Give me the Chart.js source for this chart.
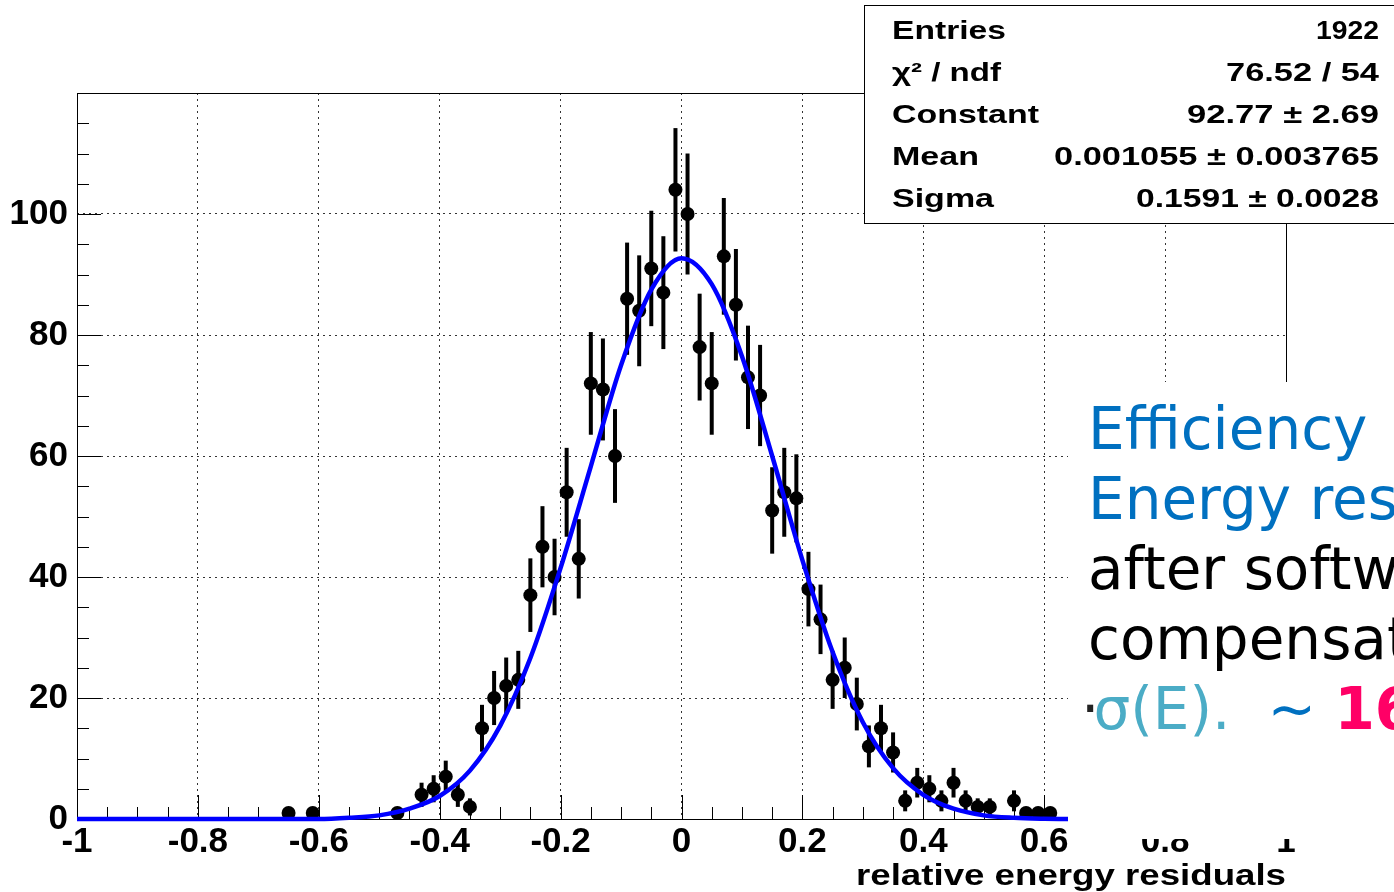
<!DOCTYPE html>
<html>
<head>
<meta charset="utf-8">
<title>relative energy residuals</title>
<script src="https://cdn.jsdelivr.net/npm/chart.js@4.4.1/dist/chart.umd.min.js"></script>
<style>
    body { margin: 0; background: #fff; }
    #wrap { position: relative; width: 1394px; height: 892px; overflow: hidden; }
    #note {
        position: absolute; left: 1068px; top: 382px; width: 326px; height: 457px;
        background: #fff; overflow: hidden; white-space: nowrap; box-sizing: border-box;
        padding: 12px 0 0 20px;
        font-family: "DejaVu Sans", sans-serif; font-size: 58px; line-height: 70px;
    }
    .blue { color: #0070c0; }
    .teal { color: #4bacc6; }
    .pink { color: #ff0066; font-weight: bold; }
    .dot { color: #222; margin-left: -7px; margin-right: -6px; }
</style>
</head>
<body>
<div id="wrap">
    <canvas id="hist" width="1394" height="892"></canvas>
    <div id="note">
        <div class="blue">Efficiency</div>
        <div class="blue">Energy resolution</div>
        <div>after software</div>
        <div>compensation</div>
        <div><span class="dot">·</span><span class="teal">σ(E).</span><span class="blue">&nbsp;&nbsp;~ </span><span class="pink">16%</span></div>
    </div>
</div>
<script>
// histogram bins (width 0.02), only non-empty ones
const binCenters = [-0.65, -0.61, -0.47, -0.43, -0.41, -0.39, -0.37, -0.35,
    -0.33, -0.31, -0.29, -0.27, -0.25, -0.23, -0.21, -0.19, -0.17, -0.15, -0.13, -0.11,
    -0.09, -0.07, -0.05, -0.03, -0.01, 0.01, 0.03, 0.05, 0.07, 0.09, 0.11, 0.13, 0.15,
    0.17, 0.19, 0.21, 0.23, 0.25, 0.27, 0.29, 0.31, 0.33, 0.35, 0.37, 0.39, 0.41, 0.43,
    0.45, 0.47, 0.49, 0.51, 0.55, 0.57, 0.59, 0.61];
const binCounts = [1, 1, 1, 4, 5, 7, 4, 2,
    15, 20, 22, 23, 37, 45, 40, 54, 43, 72, 71, 60,
    86, 84, 91, 87, 104, 100, 78, 72, 93, 85, 73, 70, 51,
    54, 53, 38, 33, 23, 25, 19, 12, 15, 11, 3, 6, 5, 3,
    6, 3, 2, 2, 3, 1, 1, 1];
const binWidth = 0.02;

// gaussian fit curve
const fitX = [-1, -0.95, -0.9, -0.85, -0.8, -0.75, -0.7, -0.65, -0.6, -0.55, -0.5,
    -0.45, -0.4, -0.35, -0.3, -0.25, -0.2, -0.15, -0.1, -0.05, 0,
    0.05, 0.1, 0.15, 0.2, 0.25, 0.3, 0.35, 0.4, 0.45, 0.5,
    0.55, 0.6, 0.65, 0.7, 0.75, 0.8, 0.85, 0.9, 0.95, 1];
const fitY = [0, 0, 0, 0, 0, 0, 0, 0, 0, 0.2, 0.6,
    1.7, 3.8, 8.0, 15.4, 26.6, 41.5, 58.3, 75.0, 87.5, 92.7,
    88.4, 76.5, 60.0, 42.8, 27.6, 16.0, 8.4, 4.0, 1.7, 0.6,
    0.2, 0.05, 0, 0, 0, 0, 0, 0, 0, 0];

const xTickLabels = ['-1', '-0.8', '-0.6', '-0.4', '-0.2', '0', '0.2', '0.4', '0.6', '0.8', '1'];
const yTickLabels = ['0', '20', '40', '60', '80', '100', ''];
const xTitle = 'relative energy residuals';
const statLabels = ['Entries', 'χ² / ndf', 'Constant', 'Mean', 'Sigma'];
const statValues = ['1922', '76.52 / 54', '92.77 ± 2.69', '0.001055 ± 0.003765', '0.1591 ± 0.0028'];

const tickFont = { family: '"Liberation Sans", Arial, sans-serif', size: 35, weight: 'bold' };

// text squeezed/stretched to a given width, like the ROOT canvas
function fitText(ctx, txt, x, y, w, align) {
    var m = ctx.measureText(txt).width;
    ctx.save();
    ctx.translate(x, y);
    ctx.scale(w / m, 1);
    ctx.textAlign = align;
    ctx.fillText(txt, 0, 0);
    ctx.restore();
}

const rootStyle = {
    id: 'rootStyle',
    beforeDatasetsDraw(chart) {
        var ctx = chart.ctx;
        var a = chart.chartArea;
        var xs = chart.scales.x;
        var ys = chart.scales.y;
        ctx.save();
        ctx.strokeStyle = '#000';
        ctx.lineWidth = 1;
        ctx.strokeRect(a.left + 0.5, a.top + 0.5, a.right - a.left, a.bottom - a.top);

        // ticks inside the frame
        ctx.beginPath();
        for (let k = 0; k <= 40; k++) {
            let px = Math.round(xs.getPixelForValue(-1 + k * 0.05)) + 0.5;
            let len = (k % 4 == 0) ? 24 : 12;
            ctx.moveTo(px, a.bottom);
            ctx.lineTo(px, a.bottom - len);
        }
        for (let k = 0; k <= 24; k++) {
            let py = Math.round(ys.getPixelForValue(k * 5)) + 0.5;
            let len = (k % 4 == 0) ? 24 : 12;
            ctx.moveTo(a.left, py);
            ctx.lineTo(a.left + len, py);
        }
        ctx.stroke();

        // error bars
        ctx.strokeStyle = '#000';
        for (let i = 0; i < binCenters.length; i++) {
            let err = Math.sqrt(binCounts[i]);
            let px = xs.getPixelForValue(binCenters[i]);
            let py = ys.getPixelForValue(binCounts[i]);
            ctx.lineWidth = 4;
            ctx.beginPath();
            ctx.moveTo(px, ys.getPixelForValue(binCounts[i] + err));
            ctx.lineTo(px, ys.getPixelForValue(Math.max(0, binCounts[i] - err)));
            ctx.stroke();
            ctx.lineWidth = 2;
            ctx.beginPath();
            ctx.moveTo(xs.getPixelForValue(binCenters[i] - binWidth / 2), py);
            ctx.lineTo(xs.getPixelForValue(binCenters[i] + binWidth / 2), py);
            ctx.stroke();
        }
        ctx.restore();
    },
    afterDraw(chart) {
        var ctx = chart.ctx;
        ctx.save();
        // stats box
        ctx.fillStyle = '#fff';
        ctx.fillRect(864, 5, 600, 218);
        ctx.strokeStyle = '#000';
        ctx.lineWidth = 1;
        ctx.strokeRect(864.5, 5.5, 600, 218);
        ctx.fillStyle = '#000';
        ctx.font = 'bold 26px "Liberation Sans", Arial, sans-serif';
        var labelW = [114, 109, 147, 87, 102];
        var valueW = [63, 153, 192, 325, 243];
        for (let i = 0; i < statLabels.length; i++) {
            let base = 39 + i * 42;
            fitText(ctx, statLabels[i], 892, base, labelW[i], 'left');
            fitText(ctx, statValues[i], 1379, base, valueW[i], 'right');
        }
        // axis title
        ctx.font = 'bold 29px "Liberation Sans", Arial, sans-serif';
        fitText(ctx, xTitle, 1286, 885, 430, 'right');
        ctx.restore();
    }
};

window.onload = function() {
    var ctx = document.getElementById('hist').getContext('2d');
    new Chart(ctx, {
        type: 'scatter',
        data: {
            datasets: [{
                type: 'line',
                label: 'gaus',
                data: fitX.map((x, i) => ({ x: x, y: fitY[i] })),
                borderColor: '#0000ff',
                borderWidth: 4.5,
                pointRadius: 0,
                fill: false,
                cubicInterpolationMode: 'monotone',
                clip: false,
                order: 0
            }, {
                type: 'scatter',
                label: 'residuals',
                data: binCenters.map((x, i) => ({ x: x, y: binCounts[i] })),
                pointRadius: 7,
                pointBackgroundColor: '#000',
                pointBorderWidth: 0,
                order: 1
            }]
        },
        options: {
            responsive: false,
            animation: false,
            events: [],
            layout: { padding: { top: 93, right: 108, left: 0, bottom: 0 } },
            plugins: { legend: { display: false }, tooltip: { enabled: false } },
            scales: {
                x: {
                    type: 'linear',
                    min: -1,
                    max: 1,
                    afterFit: function(s) { s.height = 73; },
                    grid: { color: '#333', lineWidth: 1, drawTicks: false },
                    border: { display: false, dash: [2, 4] },
                    ticks: {
                        stepSize: 0.2,
                        autoSkip: false,
                        maxRotation: 0,
                        padding: 2,
                        color: '#000',
                        font: tickFont,
                        callback: (v, i) => xTickLabels[i]
                    }
                },
                y: {
                    min: 0,
                    max: 120,
                    afterFit: function(s) { s.width = 77; },
                    grid: { color: '#333', lineWidth: 1, drawTicks: false },
                    border: { display: false, dash: [2, 4] },
                    ticks: {
                        stepSize: 20,
                        padding: 9,
                        color: '#000',
                        font: tickFont,
                        callback: (v, i) => yTickLabels[i]
                    }
                }
            }
        },
        plugins: [rootStyle]
    });
}
</script>
</body>
</html>
